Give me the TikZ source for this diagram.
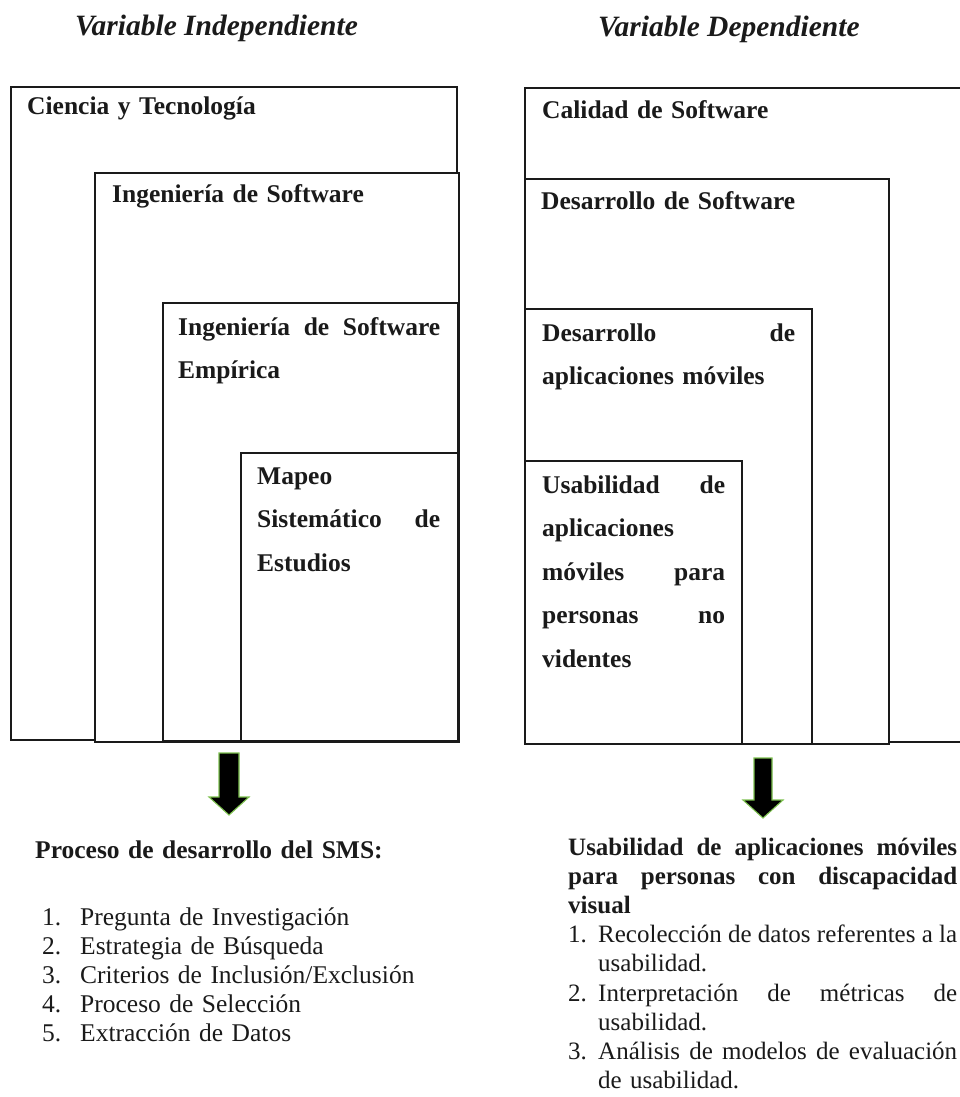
\documentclass[tikz,border=0pt]{standalone}
\usepackage{fontspec}
\setmainfont{Liberation Serif}
\definecolor{arrowgreen}{HTML}{7CC04E}
\definecolor{ink}{HTML}{1A1A1A}
\begin{document}
\begin{tikzpicture}[x=1pt,y=-1pt,
  frame/.style={draw=ink, line width=1.6pt, fill=white},
  boxtext/.style={anchor=base west, inner sep=0pt, text=ink, align=left, text width=#1,
    font=\fontsize{25.5}{43.5}\selectfont\bfseries},
  titletext/.style={anchor=base west, inner sep=0pt, text=ink,
    font=\fontsize{29.5}{34}\selectfont\bfseries\itshape},
  listtext/.style={anchor=base west, inner sep=0pt, text=ink, align=left, text width=#1,
    font=\fontsize{25.5}{29.2}\selectfont},
  blockarrow/.style={fill=black, draw=arrowgreen, line width=1.1pt, line join=miter}]
\useasboundingbox (0,0) rectangle (960,1097);

% titles
\node[titletext] (tI) at (75,36) {Variable Independiente};
\node[titletext] (tD) at (598,37) {Variable Dependiente};

% left nested boxes
\draw[frame] (11,87) rectangle (457,740);
\draw[frame] (95,173) rectangle (459,742);
\draw[frame] (163,303) rectangle (458,741);
\draw[frame] (241,453) rectangle (458,741);
\node[boxtext=420pt] (l1) at (27,115) {Ciencia y Tecnología};
\node[boxtext=330pt] (l2) at (112,202) {Ingeniería de Software};
\node[boxtext=262pt] (l3) at (178,335) {Ingeniería\hfill de\hfill Software\\ Empírica};
\node[boxtext=183pt] (l4) at (257,484) {Mapeo\\ Sistemático\hfill de\\ Estudios};

% right nested boxes
\draw[frame] (525,88) rectangle (975,742);
\draw[frame] (525,179) rectangle (889,744);
\draw[frame] (525,309) rectangle (812,744);
\draw[frame] (525,461) rectangle (742,744);
\node[boxtext=400pt] (r1) at (542,118) {Calidad de Software};
\node[boxtext=330pt] (r2) at (541,209) {Desarrollo de Software};
\node[boxtext=253pt] (r3) at (542,341) {Desarrollo\hfill de\\ aplicaciones móviles};
\node[boxtext=183pt] (r4) at (542,493) {Usabilidad\hfill de\\ aplicaciones\\ móviles\hfill para\\ personas\hfill no\\ videntes};

% block arrows
\draw[blockarrow] (219,753) -- (239,753) -- (239,797) -- (249,797) -- (229,815)
  -- (209,797) -- (219,797) -- cycle;
\draw[blockarrow] (754,758) -- (772,758) -- (772,800) -- (783,800) -- (763,818)
  -- (743,800) -- (754,800) -- cycle;

% left bottom text
\node[listtext=440pt, font=\fontsize{25.5}{29.2}\selectfont\bfseries] (lh) at (35,858)
  {Proceso de desarrollo del SMS:};
\node[listtext=430pt] (ll) at (42,925)
  {\makebox[38pt][l]{1.}Pregunta de Investigación\\
   \makebox[38pt][l]{2.}Estrategia de Búsqueda\\
   \makebox[38pt][l]{3.}Criterios de Inclusión/Exclusión\\
   \makebox[38pt][l]{4.}Proceso de Selección\\
   \makebox[38pt][l]{5.}Extracción de Datos};

% right bottom text
\node[listtext=389pt, font=\fontsize{25}{29.2}\selectfont] (rl) at (568,855)
  {\bfseries Usabilidad\hfill de\hfill aplicaciones\hfill móviles\\
   para\hfill personas\hfill con\hfill discapacidad\\
   visual\\
   \mdseries\makebox[30pt][l]{1.}Recolección\hfill de\hfill datos\hfill referentes\hfill a\hfill la\\
   \hspace*{30pt}usabilidad.\\
   \makebox[30pt][l]{2.}Interpretación\hfill de\hfill métricas\hfill de\\
   \hspace*{30pt}usabilidad.\\
   \makebox[30pt][l]{3.}Análisis\hfill de\hfill modelos\hfill de\hfill evaluación\\
   \hspace*{30pt}de usabilidad.};
\end{tikzpicture}
\end{document}
